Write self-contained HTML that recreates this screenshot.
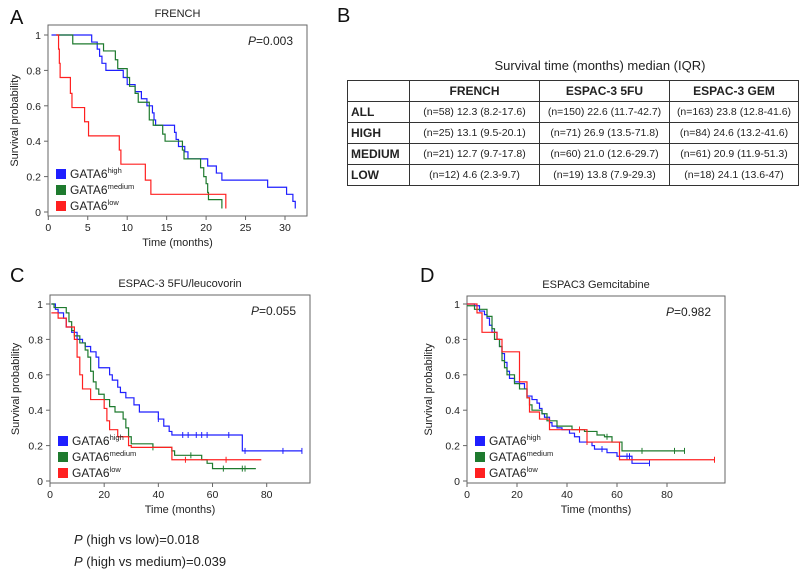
<!DOCTYPE html>
<html><head><meta charset="utf-8"><style>
body{margin:0;background:#fff;font-family:"Liberation Sans",Arial,sans-serif;}
#wrap{position:relative;width:810px;height:574px;overflow:hidden;}
svg{position:absolute;left:0;top:0;}
table{position:absolute;left:347px;top:80px;border-collapse:collapse;font-size:10.5px;color:#222;}
td{border:1.3px solid #333;height:20px;padding:0;text-align:center;}
td.rh{text-align:left;font-weight:bold;font-size:12px;padding-left:3px;}
tr.h td{font-weight:bold;font-size:12px;}
</style></head><body>
<div id="wrap">
<svg id="fig" width="810" height="574"></svg>
<div style="position:absolute;left:470px;top:58px;width:260px;text-align:center;font-size:13px;color:#222;">Survival time (months) median (IQR)</div>
<table>
<tr class="h"><td style="width:61px"></td><td style="width:129px">FRENCH</td><td style="width:129px">ESPAC-3 5FU</td><td style="width:128px">ESPAC-3 GEM</td></tr>
<tr><td class="rh">ALL</td><td>(n=58) 12.3 (8.2-17.6)</td><td>(n=150) 22.6 (11.7-42.7)</td><td>(n=163) 23.8 (12.8-41.6)</td></tr>
<tr><td class="rh">HIGH</td><td>(n=25) 13.1 (9.5-20.1)</td><td>(n=71) 26.9 (13.5-71.8)</td><td>(n=84) 24.6 (13.2-41.6)</td></tr>
<tr><td class="rh">MEDIUM</td><td>(n=21) 12.7 (9.7-17.8)</td><td>(n=60) 21.0 (12.6-29.7)</td><td>(n=61) 20.9 (11.9-51.3)</td></tr>
<tr><td class="rh">LOW</td><td>(n=12) 4.6 (2.3-9.7)</td><td>(n=19) 13.8 (7.9-29.3)</td><td>(n=18) 24.1 (13.6-47)</td></tr>
</table>
</div>
<script>
// Panel A (FRENCH)
const aHighT=[0.4,5.5,6.2,6.5,6.8,7.3,9.5,10,11,11.8,12.5,13.2,13.4,13.6,16,16.2,16.5,17.3,17.7,20.2,21.3,22,27.8,30.2,31,31.3];
const aHighS=[1,0.96,0.92,0.88,0.84,0.80,0.76,0.72,0.68,0.64,0.60,0.56,0.52,0.49,0.45,0.41,0.37,0.34,0.30,0.26,0.22,0.18,0.14,0.10,0.06,0.02];
const aMedT=[1,3.1,7,8.5,8.8,10,10.3,11,11.4,12.8,13.3,14.5,14.8,17,17.2,19.3,19.7,20,20.2,20.3,22];
const aMedS=[1,0.95,0.91,0.86,0.81,0.76,0.71,0.67,0.62,0.52,0.49,0.44,0.40,0.35,0.30,0.25,0.2,0.16,0.11,0.07,0.02];
const aLowT=[1,1.3,1.4,1.5,2.8,3,4.6,5.1,9,9.2,12.3,13,22.5];
const aLowS=[1,0.92,0.84,0.76,0.67,0.59,0.51,0.43,0.35,0.27,0.18,0.10,0.02];
// Panel C (ESPAC-3 5FU)
const cHighT=[0.5,2,3,5,6,8,10,12,13,15,17,18,22,23,25,26,28,31,33,40,42,44,45,71,93];
const cHighS=[1,0.97,0.95,0.92,0.87,0.84,0.80,0.78,0.76,0.73,0.70,0.64,0.60,0.57,0.53,0.50,0.47,0.43,0.39,0.35,0.31,0.28,0.26,0.17,0.17];
const cHighC=[40,49,51,54,56,58,66,72,86,93];
const cMedT=[0.5,1.5,6,7,8,9,11,13,14,15,16,17,18,20,22,24,27,28,29,30,38,45,46,56,58,60,76];
const cMedS=[1,0.98,0.95,0.90,0.85,0.82,0.78,0.74,0.70,0.62,0.56,0.52,0.49,0.46,0.42,0.39,0.35,0.30,0.25,0.21,0.19,0.17,0.145,0.12,0.10,0.07,0.07];
const cMedC=[38,52,64,71,72];
const cLowT=[0.5,3,6,9,10,11,12,15,20,21,22,25,29,30,45,78];
const cLowS=[0.95,0.92,0.87,0.80,0.70,0.60,0.52,0.46,0.41,0.34,0.29,0.25,0.20,0.19,0.12,0.12];
const cLowC=[50,65];
// Panel D (ESPAC-3 GEM)
const dHighT=[0,3,5,7,8,9,10,12,13,14,15,16,17,19,21,23,24,26,28,29,30,31,33,34,36,38,41,43,45,50,51,56,60,66,73];
const dHighS=[1,0.99,0.96,0.94,0.92,0.88,0.84,0.80,0.76,0.72,0.67,0.62,0.58,0.56,0.55,0.52,0.48,0.46,0.44,0.41,0.38,0.36,0.33,0.31,0.30,0.29,0.27,0.25,0.22,0.20,0.18,0.16,0.14,0.10,0.10];
const dHighC=[54,64,65,73];
const dMedT=[0,3,8,10,11,13,14,15,16,19,21,24,25,26,30,32,36,42,47,52,55,58,62,87];
const dMedS=[0.99,0.97,0.93,0.86,0.80,0.76,0.68,0.64,0.60,0.55,0.52,0.47,0.43,0.40,0.38,0.34,0.31,0.29,0.28,0.26,0.25,0.22,0.17,0.17];
const dMedC=[45,56,70,83,87];
const dLowT=[0,4,6,12,14,21,24,25,29,33,48,61,99];
const dLowS=[1,0.95,0.84,0.80,0.73,0.56,0.47,0.39,0.35,0.29,0.22,0.12,0.12];
const dLowC=[45,48,99];
const xTicksA=[0,5,10,15,20,25,30];
const xTicksCD=[0,20,40,60,80];
const yTicks=[0,0.2,0.4,0.6,0.8,1];
const yTickLabels=["0","0.2","0.4","0.6","0.8","1"];

const NS="http://www.w3.org/2000/svg";
const svg=document.getElementById('fig');
function mk(tag,attrs,parent){const e=document.createElementNS(NS,tag);for(const k in attrs)e.setAttribute(k,attrs[k]);(parent||svg).appendChild(e);return e;}
function txt(x,y,s,size,anchor,parent){const t=mk('text',{x:x,y:y,'font-size':size,'text-anchor':anchor||'middle',fill:'#222'},parent);t.textContent=s;return t;}
const COL={high:'#1f1fff',medium:'#1e7a2e',low:'#ff2020'};

function panel(p){
  const g=mk('g',{});
  
  
  const X=v=>p.x0+(v-0)*(p.x1-p.x0)/p.xmax;
  const Y=v=>p.y0+(1-v)*(p.y1-p.y0);
  const box=mk('rect',{x:p.bx0,y:p.by0,width:p.bx1-p.bx0,height:p.by1-p.by0,fill:'none',stroke:'#666','stroke-width':1},g);
  
  
  p.xt.forEach(v=>{
    const t=mk('line',{x1:X(v),x2:X(v),y1:p.by1,y2:p.by1+4,stroke:'#666'},g);
    
    
    const l=txt(X(v),p.by1+15,String(v),10.5,'middle',g);
    
    
  });
  yTicks.forEach((v,i)=>{
    const t=mk('line',{x1:p.bx0-4,x2:p.bx0,y1:Y(v),y2:Y(v),stroke:'#666'},g);
    
    
    const l=txt(p.bx0-7,Y(v)+4,yTickLabels[i],10.5,'end',g);
    
    
  });
  const ti=txt((p.bx0+p.bx1)/2,p.by0-8,p.title,11,'middle',g);
  
  
  const xl=txt((p.bx0+p.bx1)/2,p.by1+30,'Time (months)',11,'middle',g);
  
  
  const yc=(p.by0+p.by1)/2;
  const yl=txt(p.ylx,yc,'Survival probability',11,'middle',g);
  yl.setAttribute('transform','rotate(-90 '+p.ylx+' '+yc+')');
  
  
  const pv=mk('text',{x:p.bx1-14,y:p.by0+20,'font-size':12,'text-anchor':'end',fill:'#222'},g);
  pv.innerHTML='<tspan font-style="italic">P</tspan>='+p.p;
  
  
  const lt=mk('text',{x:p.letter[0],y:p.letter[1],'font-size':20,fill:'#111'},g);
  lt.textContent=p.L;
  
  
  p.series.forEach(s=>{
    let d='M'+X(s.t[0])+','+Y(s.s[0]);
    for(let i=1;i<s.t.length;i++){d+=' H'+X(s.t[i])+' V'+Y(s.s[i]);}
    const path=mk('path',{d:d,fill:'none',stroke:COL[s.k],'stroke-width':1.2},g);
    
    
    (s.c||[]).forEach(ct=>{
      let sv=s.s[0];for(let i=0;i<s.t.length;i++){if(s.t[i]<=ct)sv=s.s[i];}
      const m=mk('line',{x1:X(ct),x2:X(ct),y1:Y(sv)-3,y2:Y(sv)+3,stroke:COL[s.k],'stroke-width':1},g);
      
      
    });
  });
  const labs=[['high','high'],['medium','medium'],['low','low']];
  labs.forEach((L,i)=>{
    const ly=p.legY+i*16;
    const r=mk('rect',{x:p.bx0+8,y:ly-9,width:10,height:10,fill:COL[L[0]]},g);
    
    
    const t=mk('text',{x:p.bx0+22,y:ly,'font-size':12,fill:'#222'},g);
    t.innerHTML='GATA6<tspan font-size="7.5" dy="-5">'+L[1]+'</tspan>';
    
    
  });
}
panel({name:'panel-a-french',L:'A',letter:[10,24],title:'FRENCH',p:'0.003',bx0:48,bx1:307,by0:25,by1:216,x0:48.3,x1:285,xmax:30,y0:35,y1:212,xt:xTicksA,ylx:18,legY:178,
  series:[{k:'high',t:aHighT,s:aHighS},{k:'medium',t:aMedT,s:aMedS},{k:'low',t:aLowT,s:aLowS}]});
panel({name:'panel-c-espac3-5fu',L:'C',letter:[10,282],title:'ESPAC-3 5FU/leucovorin',p:'0.055',bx0:50,bx1:310,by0:295,by1:483,x0:50,x1:266.7,xmax:80,y0:304,y1:481,xt:xTicksCD,ylx:19,legY:445,
  series:[{k:'high',t:cHighT,s:cHighS,c:cHighC},{k:'medium',t:cMedT,s:cMedS,c:cMedC},{k:'low',t:cLowT,s:cLowS,c:cLowC}]});
panel({name:'panel-d-espac3-gem',L:'D',letter:[420,282],title:'ESPAC3 Gemcitabine',p:'0.982',bx0:467,bx1:725,by0:296,by1:483,x0:467,x1:667,xmax:80,y0:304,y1:481,xt:xTicksCD,ylx:432,legY:445,
  series:[{k:'high',t:dHighT,s:dHighS,c:dHighC},{k:'medium',t:dMedT,s:dMedS,c:dMedC},{k:'low',t:dLowT,s:dLowS,c:dLowC}]});
const lb=mk('text',{x:337,y:22,'font-size':20,fill:'#111'});
lb.textContent='B';


const p1=mk('text',{x:74,y:544,'font-size':13,fill:'#222'});
p1.innerHTML='<tspan font-style="italic">P</tspan> (high vs low)=0.018';


const p2=mk('text',{x:74,y:566,'font-size':13,fill:'#222'});
p2.innerHTML='<tspan font-style="italic">P</tspan> (high vs medium)=0.039';


</script>
</body></html>
